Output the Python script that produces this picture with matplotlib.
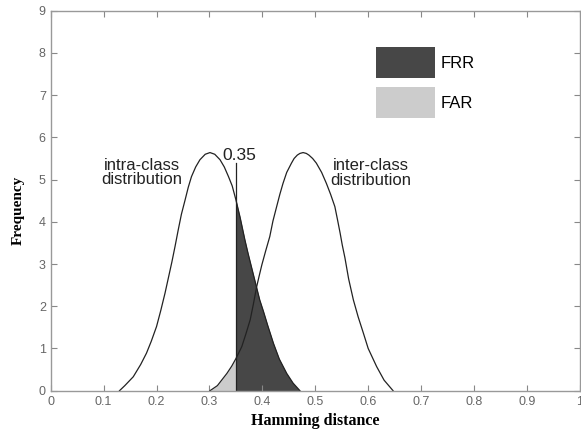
import numpy as np
import matplotlib
matplotlib.use('Agg')
import matplotlib.pyplot as plt
from matplotlib.patches import Patch

# Values
intra_x = [0.130, 0.140, 0.156, 0.170, 0.181, 0.190, 0.200, 0.208, 0.216, 0.229,
           0.235, 0.241, 0.247, 0.254, 0.260, 0.266, 0.274, 0.282, 0.292, 0.301,
           0.310, 0.320, 0.328, 0.336, 0.343, 0.350, 0.358, 0.367, 0.373, 0.380,
           0.389, 0.395, 0.402, 0.410, 0.421, 0.432, 0.446, 0.458, 0.471]
intra_y = [0.00, 0.12, 0.33, 0.62, 0.89, 1.17, 1.52, 1.90, 2.31, 3.05,
           3.42, 3.81, 4.18, 4.52, 4.82, 5.07, 5.30, 5.47, 5.60, 5.64,
           5.60, 5.47, 5.30, 5.07, 4.85, 4.52, 4.10, 3.57, 3.25, 2.90,
           2.45, 2.15, 1.88, 1.55, 1.12, 0.75, 0.41, 0.18, 0.00]

inter_x = [0.301, 0.315, 0.333, 0.342, 0.350, 0.361, 0.369, 0.377, 0.383, 0.389,
           0.394, 0.399, 0.406, 0.414, 0.420, 0.427, 0.433, 0.439, 0.446, 0.455,
           0.460, 0.466, 0.471, 0.477, 0.483, 0.488, 0.495, 0.502, 0.512, 0.521,
           0.529, 0.537, 0.542, 0.547, 0.551, 0.556, 0.563, 0.572, 0.581, 0.591,
           0.600, 0.616, 0.630, 0.647]
inter_y = [0.00, 0.12, 0.41, 0.58, 0.76, 1.04, 1.35, 1.68, 2.05, 2.45,
           2.72, 2.98, 3.30, 3.65, 4.02, 4.36, 4.65, 4.91, 5.17, 5.39,
           5.50, 5.58, 5.62, 5.64, 5.62, 5.58, 5.50, 5.39, 5.17, 4.91,
           4.65, 4.36, 4.05, 3.73, 3.45, 3.15, 2.65, 2.15, 1.75, 1.36,
           1.00, 0.57, 0.25, 0.00]

threshold = 0.35
line_top = 5.39

plt.rcParams['font.family'] = 'Liberation Sans'

fig = plt.figure(figsize=(5.81, 4.30), dpi=100)
ax = fig.add_axes([0.0873, 0.0914, 0.9107, 0.8837])

intra_x = np.array(intra_x)
inter_x = np.array(inter_x)

dark = '#474747'
light = '#cccccc'

# FRR: intra-class above threshold, FAR: inter-class below threshold
ax.fill_between(intra_x, intra_y, where=intra_x >= threshold, color=dark, lw=0)
ax.fill_between(inter_x, inter_y, where=inter_x <= threshold, color=light, lw=0)

ax.plot(intra_x, intra_y, color='#222222', linewidth=0.9)
ax.plot(inter_x, inter_y, color='#222222', linewidth=0.9)
ax.plot([threshold, threshold], [0, line_top], color='#222222', linewidth=0.9)

ax.text(0.357, 5.58, '0.35', fontsize=12.5, ha='center', va='center', color='#222222')
ax.text(0.172, 5.17, 'intra-class\ndistribution', fontsize=12, ha='center', va='center',
        color='#222222', linespacing=0.95)
ax.text(0.605, 5.16, 'inter-class\ndistribution', fontsize=12, ha='center', va='center',
        color='#222222', linespacing=0.95)

handles = [Patch(facecolor=dark, edgecolor='none', label='FRR'),
           Patch(facecolor=light, edgecolor='none', label='FAR')]
ax.legend(handles=handles, loc='upper left', bbox_to_anchor=(375.7 / 581, 1 - 47.3 / 430),
          bbox_transform=fig.transFigure, frameon=False, fontsize=12,
          handlelength=3.55, handleheight=2.48, handletextpad=0.36,
          labelspacing=0.54, borderpad=0, borderaxespad=0)

ax.set_xlim(0, 1)
ax.set_ylim(0, 9)
ax.set_xticks(np.arange(0, 1.01, 0.1))
ax.set_xticklabels(['0', '0.1', '0.2', '0.3', '0.4', '0.5', '0.6', '0.7', '0.8', '0.9', '1'])
ax.set_yticks(range(10))

ax.tick_params(direction='in', length=4, width=0.8, colors='#888888', labelcolor='#666666',
               labelsize=9, top=True, right=True, labeltop=False, labelright=False)
for s in ax.spines.values():
    s.set_color('#999999')
    s.set_linewidth(1.0)

ax.set_xlabel('Hamming distance', fontfamily='Liberation Serif', fontweight='bold',
              fontsize=11.5, labelpad=4)
ax.set_ylabel('Frequency', fontfamily='Liberation Serif', fontweight='bold',
              fontsize=11)
ax.yaxis.set_label_coords(-0.0486, 0.4755)

fig.savefig('out.png', dpi=100)
